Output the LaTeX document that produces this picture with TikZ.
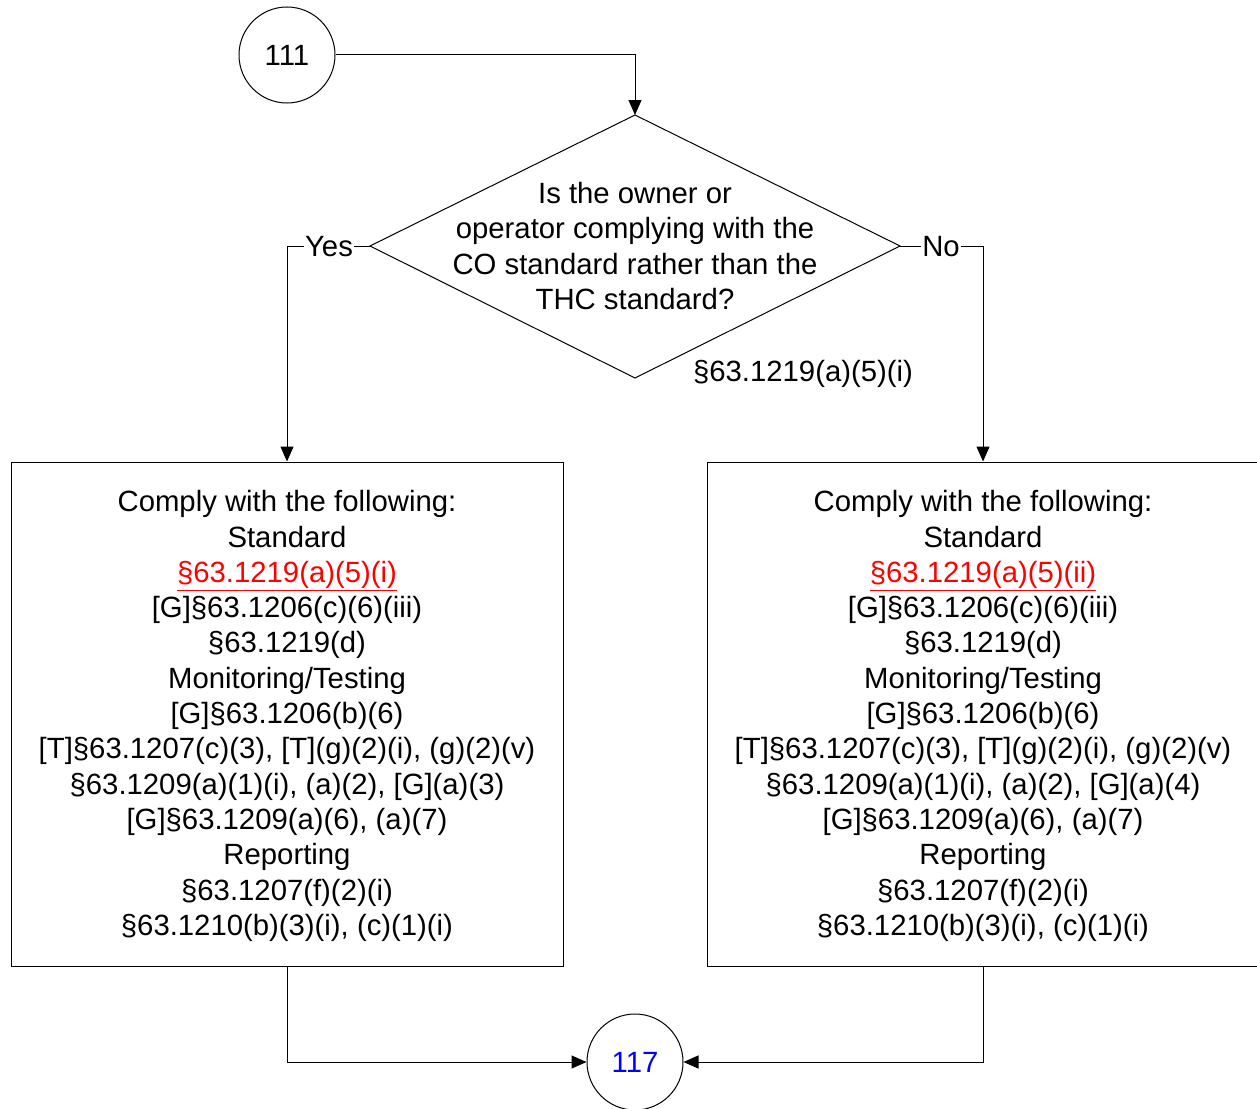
\documentclass[tikz,border=0pt]{standalone}
\usepackage{fontspec}
\setmainfont{Liberation Sans}
\usetikzlibrary{arrows.meta,positioning}

\begin{document}
\begin{tikzpicture}[x=1pt,y=-1pt,line width=1pt,
every node/.style={font=\fontsize{29.3}{35.3}\selectfont, align=center},
conn/.style={draw, -{Triangle[length=15pt,width=13pt]}},
ref/.style={draw, circle, minimum size=96pt, inner sep=0pt},
act/.style={draw, rectangle, minimum width=552pt, minimum height=504pt, inner sep=0pt},
lab/.style={fill=white, inner sep=1pt},
]
\useasboundingbox (0,0) rectangle (1257,1108);
\node[ref] (c111) at (287,55) {111};
% decision
\coordinate (dtop) at (635,115);
\coordinate (dbot) at (635,378);
\coordinate (dleft) at (370,246);
\coordinate (dright) at (900,246);
\draw (dtop)--(dright)--(dbot)--(dleft)--cycle;
\node (q) at (635,246) {Is the owner or\\operator complying with the\\CO standard rather than the\\THC standard?};
\node (qref) at (803,374) {\S63.1219(a)(5)(i)};
% actions
\node[act] (co) at (287,714) {};
\node[act] (thc) at (983,714) {};
\node (cotxt) at (287,716) {Comply with the following:\\Standard\\{\color{red}\underline{\S63.1219(a)(5)(i)}}\\{}[G]\S63.1206(c)(6)(iii)\\\S63.1219(d)\\Monitoring/Testing\\{}[G]\S63.1206(b)(6)\\{}[T]\S63.1207(c)(3), [T](g)(2)(i), (g)(2)(v)\\\S63.1209(a)(1)(i), (a)(2), [G](a)(3)\\{}[G]\S63.1209(a)(6), (a)(7)\\Reporting\\\S63.1207(f)(2)(i)\\\S63.1210(b)(3)(i), (c)(1)(i)};
\node (thctxt) at (983,716) {Comply with the following:\\Standard\\{\color{red}\underline{\S63.1219(a)(5)(ii)}}\\{}[G]\S63.1206(c)(6)(iii)\\\S63.1219(d)\\Monitoring/Testing\\{}[G]\S63.1206(b)(6)\\{}[T]\S63.1207(c)(3), [T](g)(2)(i), (g)(2)(v)\\\S63.1209(a)(1)(i), (a)(2), [G](a)(4)\\{}[G]\S63.1209(a)(6), (a)(7)\\Reporting\\\S63.1207(f)(2)(i)\\\S63.1210(b)(3)(i), (c)(1)(i)};
\node[ref, text=blue] (c117) at (635,1062) {117};
% connectors
\draw[conn] (c111.east) -| (dtop);
\draw[conn] (dleft) -| (co.north);
\draw[conn] (dright) -| (thc.north);
\node[lab] (yes) at (329,247) {Yes};
\node[lab] (no) at (941,247) {No};
\draw[conn] (co.south) |- (c117.west);
\draw[conn] (thc.south) |- (c117.east);
\end{tikzpicture}
\end{document}
